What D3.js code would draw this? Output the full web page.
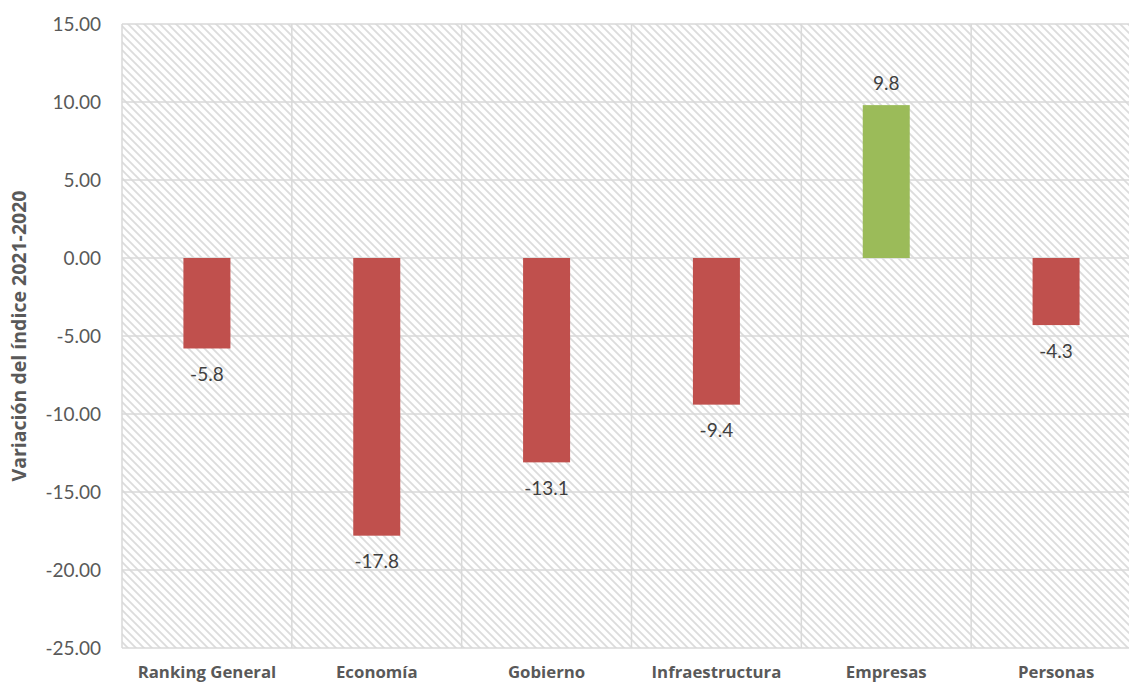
<!DOCTYPE html>
<html><head><meta charset="utf-8">
<script src="https://cdn.jsdelivr.net/npm/d3@7"></script>
<style>body{margin:0;background:#fff;}svg{display:block;}</style>
</head><body>
<svg id="chart" width="1129" height="682"></svg>
<script>
const categories = ["Ranking General","Economía","Gobierno","Infraestructura","Empresas","Personas"];
const values = [-5.8,-17.8,-13.1,-9.4,9.8,-4.3];
const yTicks = [15,10,5,0,-5,-10,-15,-20,-25];
const yTitle = "Variación del índice 2021-2020";

(function(){
const svg = d3.select("#chart");
const pLeft = 122, pRight = 1141, pTop = 24, pBottom = 648;
const font = "Lato, 'Open Sans', sans-serif";
const boldFont = "'Open Sans', sans-serif";
const fmt = f => (d => d3.format(f)(d).replace("\u2212","-"));

const defs = svg.append("defs");
const pat = defs.append("pattern").attr("id","hatch").attr("patternUnits","userSpaceOnUse")
  .attr("width",8).attr("height",8);
pat.append("rect").attr("width",8).attr("height",8).attr("fill","#fff");
pat.append("path").attr("d","M-2,-2 L10,10 M-2,6 L2,10 M6,-2 L10,2")
  .attr("stroke","#dcdcdc").attr("stroke-width",1.8);

const x = d3.scaleBand().domain(categories).range([pLeft,pRight]);
const y = d3.scaleLinear().domain([-25,15]).range([pBottom,pTop]);

svg.append("rect").attr("x",pLeft).attr("y",pTop).attr("width",pRight-pLeft).attr("height",pBottom-pTop)
  .attr("fill","url(#hatch)");

svg.append("g").selectAll("line").data(yTicks).join("line")
  .attr("x1",pLeft).attr("x2",pRight).attr("y1",d=>y(d)).attr("y2",d=>y(d))
  .attr("stroke","#d9d9d9").attr("stroke-width",1.5);
const vx = categories.map(c=>x(c)).concat([pRight]);
svg.append("g").selectAll("line").data(vx).join("line")
  .attr("x1",d=>d).attr("x2",d=>d).attr("y1",pTop).attr("y2",pBottom)
  .attr("stroke","#d9d9d9").attr("stroke-width",1.5);

const yAxis = d3.axisLeft(y).tickValues(yTicks).tickFormat(fmt(".2f")).tickSize(0).tickPadding(0);
const ga = svg.append("g").attr("transform",`translate(${101},0)`).call(yAxis);
ga.select(".domain").remove();
ga.selectAll("text").attr("font-family",font).attr("font-size",19).attr("fill","#595959").attr("dy","0.35em");

const xAxis = d3.axisBottom(x).tickSize(0).tickPadding(0);
const gx = svg.append("g").attr("transform",`translate(0,${672})`).call(xAxis);
gx.select(".domain").remove();
gx.selectAll("text").attr("font-family",boldFont).attr("font-size",16.8).attr("font-weight","bold").attr("fill","#595959").attr("dy","0.35em");

const bw = 47;
svg.append("g").selectAll("rect").data(values).join("rect")
  .attr("x",(d,i)=>x(categories[i])+x.bandwidth()/2-bw/2)
  .attr("width",bw)
  .attr("y",d=>y(Math.max(0,d)))
  .attr("height",d=>Math.abs(y(d)-y(0)))
  .attr("fill",d=>d>=0?"#9BBB59":"#C0504D");

svg.append("g").selectAll("text").data(values).join("text")
  .attr("x",(d,i)=>x(categories[i])+x.bandwidth()/2)
  .attr("y",d=>d>=0? y(d)-22 : y(d)+26)
  .attr("dy","0.35em")
  .attr("text-anchor","middle")
  .attr("font-family",font).attr("font-size",19).attr("fill","#404040")
  .text(fmt(".1f"));

svg.append("text").attr("transform",`translate(19,${(pTop+pBottom)/2}) rotate(-90)`)
  .attr("text-anchor","middle").attr("dy","0.35em")
  .attr("font-family",boldFont).attr("font-size",19.5).attr("font-weight","bold").attr("fill","#595959")
  .text(yTitle);
})();
</script>
</body></html>
